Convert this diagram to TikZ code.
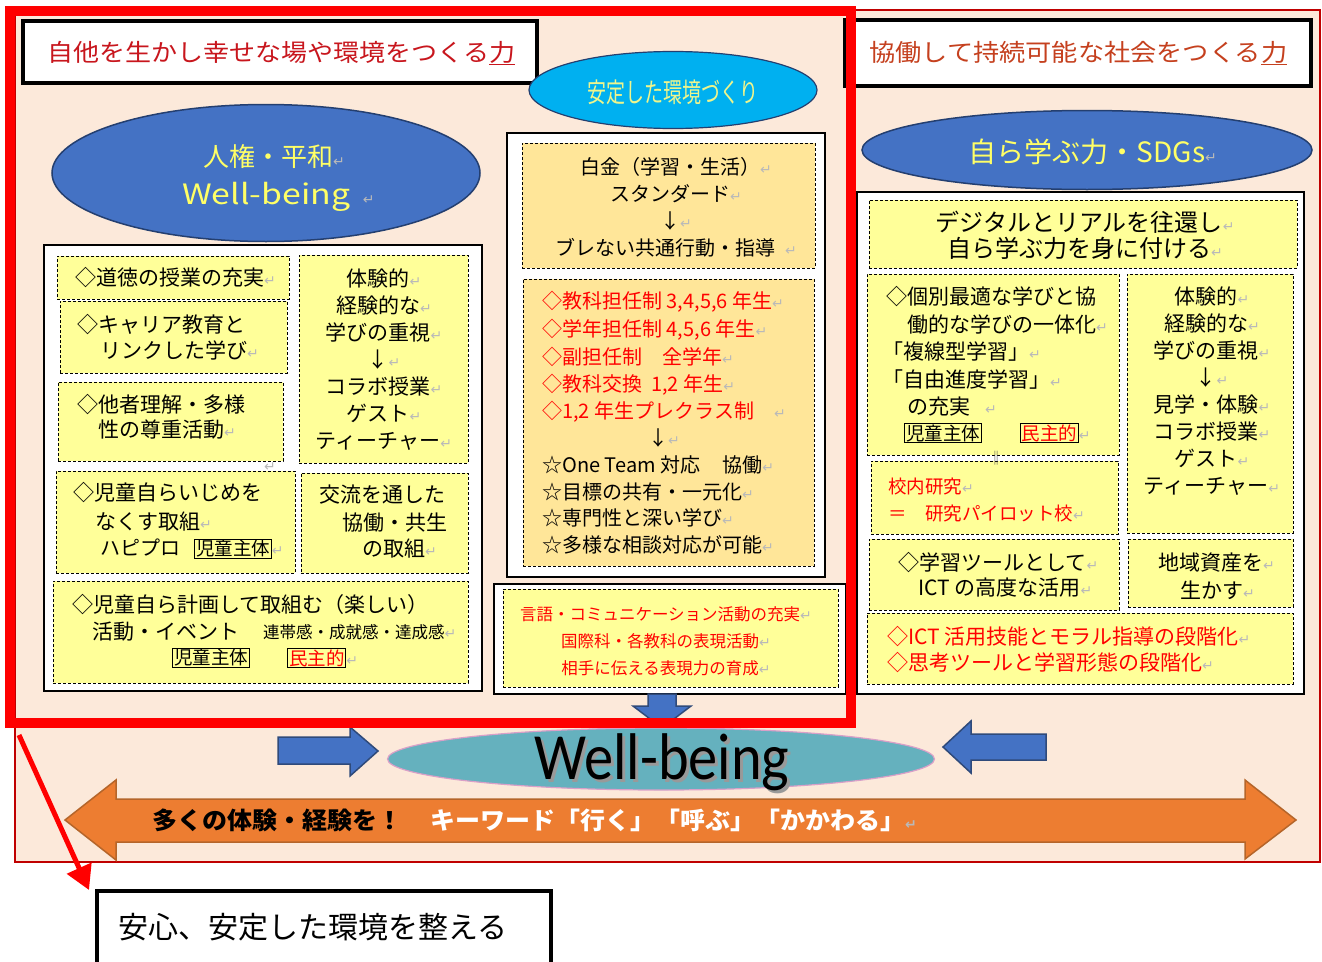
\documentclass[tikz,border=0pt]{standalone}
\usepackage{fontspec}
\usepackage{graphicx}
\setmainfont{Noto Sans CJK JP}
\newfontfamily\djv{DejaVu Sans}
\newfontfamily\carl{Carlito}
\usetikzlibrary{shapes.geometric,arrows.meta}
\definecolor{peach}{HTML}{FCE9DA}
\definecolor{dkred}{HTML}{C00000}
\definecolor{titlered}{HTML}{C8161D}
\definecolor{titleorg}{HTML}{C5401E}
\definecolor{yel}{HTML}{FFFF99}
\definecolor{gold}{HTML}{FFE699}
\definecolor{ebl}{HTML}{4472C4}
\definecolor{navyl}{HTML}{243F70}
\definecolor{cyanf}{HTML}{00B0F0}
\definecolor{etxt}{HTML}{FFFF66}
\definecolor{ctxt}{HTML}{EEF58C}
\definecolor{tealf}{HTML}{65B1BE}
\definecolor{pinkl}{HTML}{D9A0C8}
\definecolor{orgf}{HTML}{ED7D31}
\definecolor{orgl}{HTML}{B5652A}
\definecolor{barl}{HTML}{2F4A7A}
\definecolor{redt}{HTML}{FF0000}
\newcommand\rt{{\djv\fontsize{14}{14}\selectfont\textcolor{gray!55}{↵}}}
\newcommand\fw[2][black]{{\setlength\fboxsep{0.6pt}\setlength\fboxrule{1.2pt}\fbox{\textcolor{#1}{#2}}}}
\newcommand\wfit[2]{\resizebox{#1}{\height}{#2}}
\newcommand\bx[6]{\node[#6, inner sep=0, outer sep=0, minimum width={#4-#2}, minimum height={#5-#3}] (#1) at ({(#2+#4)/2},{(#3+#5)/2}) {};}
\begin{document}
\begin{tikzpicture}[x=1pt,y=-1pt,
  panel/.style={draw=black, line width=2.5, fill=white},
  ybox/.style={draw=black, line width=1, dash pattern=on 3pt off 2pt, fill=yel},
  gbox/.style={draw=black, line width=1, dash pattern=on 3pt off 2pt, fill=gold},
  tbox/.style={draw=black, line width=4, fill=white},
  bgbox/.style={draw=dkred, line width=1.5, fill=peach},
  bell/.style={ellipse, draw=navyl, line width=1.5, fill=ebl, inner sep=0},
  cell/.style={ellipse, draw=navyl, line width=1.2, fill=cyanf, inner sep=0},
  barrow/.style={draw=barl, line width=1.5, fill=ebl, line join=miter},
  oarrow/.style={draw=orgl, line width=1.5, fill=orgf, line join=miter},
  t16/.style={font=\fontsize{16.5}{27}\selectfont, inner sep=0},
  t18/.style={font=\fontsize{18.5}{27}\selectfont, inner sep=0},
  t20/.style={font=\fontsize{20}{27}\selectfont, inner sep=0},
  t21/.style={font=\fontsize{21}{27}\selectfont, inner sep=0},
  t24/.style={font=\fontsize{24}{26}\selectfont, inner sep=0},
  redframe/.style={draw=redt, line width=10},
]
\useasboundingbox (0,0) rectangle (1322,961);
\clip (0,0) rectangle (1322,961);
\fill[white] (0,0) rectangle (1322,961);
% background
\bx{bg}{15}{10}{1320}{862}{bgbox}
% title boxes
\bx{tl}{23}{21}{537}{83}{tbox}
\node[font=\fontsize{24}{24}\selectfont, text=titlered, anchor=west, inner sep=0] (tlt) at (47,53) {\wfit{468pt}{自他を生かし幸せな場や環境をつくる\underline{力}}};
\bx{tr}{845}{20}{1311}{86}{tbox}
\node[font=\fontsize{24}{24}\selectfont, text=titleorg, anchor=west, inner sep=0] (trt) at (869,53) {\wfit{418pt}{協働して持続可能な社会をつくる\underline{力}}};
% ellipses
\node[bell, minimum width=428, minimum height=137] (e1) at (266,173) {};
\node[font=\fontsize{26}{26}\selectfont, text=etxt, anchor=west, inner sep=0] (e1a) at (203,157) {人権・平和\rt};
\node[font=\fontsize{28}{28}\selectfont, text=etxt, anchor=west, inner sep=0] (e1b) at (182,197) {\wfit{168pt}{Well-being}\ \ \rt};
\node[cell, minimum width=288, minimum height=77] (e2) at (673,90) {};
\node[font=\fontsize{27}{27}\selectfont, text=ctxt, inner sep=0] (e2t) at (673,92) {\wfit{171pt}{安定した環境づくり}};
\node[bell, minimum width=450, minimum height=79] (e3) at (1087,150) {};
\node[font=\fontsize{28}{28}\selectfont, text=etxt, anchor=west, inner sep=0] (e3t) at (968,152) {\wfit{237pt}{自ら学ぶ力・SDGs}\rt};
% ---------- left panel
\bx{lp}{44}{245}{482}{691}{panel}
\bx{b1}{57}{256}{289}{299}{ybox}
\bx{b2}{60}{301}{287}{373}{ybox}
\bx{b3}{58}{382}{283}{461}{ybox}
\bx{b4}{299}{255}{468}{463}{ybox}
\bx{b5}{56}{471}{295}{573}{ybox}
\bx{b6}{301}{473}{468}{573}{ybox}
\bx{b7}{53}{581}{468}{683}{ybox}
\node[inner sep=0] (lpr) at (270,467) {\rt};
\node[t21,anchor=west] (b1t) at (75,278) {◇道徳の授業の充実\rt};
\node[t21,anchor=west] (b2t) at (77,325) {◇キャリア教育と};
\node[t21,anchor=west] (b2u) at (100,350) {リンクした学び\rt};
\node[t21,anchor=west] (b3t) at (77,405) {◇他者理解・多様};
\node[t21,anchor=west] (b3u) at (98,430) {性の尊重活動\rt};
\node[t21,align=center] (b4t) at (384,360) {体験的\rt\\経験的な\rt\\学びの重視\rt\\↓\rt\\コラボ授業\rt\\ゲスト\rt\\ティーチャー\rt};
\node[t21,anchor=west] (b5t) at (73,493) {◇児童自らいじめを};
\node[t21,anchor=west] (b5u) at (95,522) {なくす取組\rt};
\node[t20,anchor=west] (b5v) at (100,549) {ハピプロ\hspace{14pt}{\fontsize{18.5}{18.5}\selectfont\fw{児童主体}}\rt};
\node[t21,anchor=west] (b6t) at (319,495) {交流を通した};
\node[t21,anchor=west] (b6u) at (342,523) {協働・共生};
\node[t21,anchor=west] (b6v) at (362,549) {の取組\rt};
\node[t21,anchor=west] (b7t) at (72,605) {◇児童自ら計画して取組む（楽しい）};
\node[t21,anchor=west] (b7u) at (92,632) {活動・イベント};
\node[t16,anchor=west] (b7v) at (263,632) {連帯感・成就感・達成感\rt};
\node[t18,anchor=west] (b7w) at (172,658) {\fw{児童主体}};
\node[t18,anchor=west] (b7x) at (287,658) {\fw[redt]{民主的}\rt};
% ---------- center panel
\bx{cp}{507}{133}{825}{577}{panel}
\bx{c1}{522}{143}{815}{268}{gbox}
\bx{c2}{523}{279}{814}{566}{gbox}
\node[t20,align=center] (c1t) at (676,207) {白金（学習・生活）\rt\\スタンダード\rt\\↓\rt\\ブレない共通行動・指導\hspace{10pt}\rt};
\node[t20,text=redt,anchor=west] (c2a) at (542,302) {◇教科担任制 3,4,5,6 年生\rt};
\node[t20,text=redt,anchor=west] (c2b) at (542,330) {◇学年担任制 4,5,6 年生\rt};
\node[t20,text=redt,anchor=west] (c2c) at (542,357) {◇副担任制　全学年\rt};
\node[t20,text=redt,anchor=west] (c2d) at (542,385) {◇教科交換\hspace{9pt}1,2 年生\rt};
\node[t20,text=redt,anchor=west] (c2e) at (542,412) {◇1,2 年生プレクラス制\hspace{20pt}\rt};
\node[t20] (c2f) at (664,438) {↓\rt};
\node[t20,anchor=west] (c2g) at (542,465) {☆One Team 対応\hspace{22pt}協働\rt};
\node[t20,anchor=west] (c2h) at (542,492) {☆目標の共有・一元化\rt};
\node[t20,anchor=west] (c2i) at (542,518) {☆専門性と深い学び\rt};
\node[t20,anchor=west] (c2j) at (542,545) {☆多様な相談対応が可能\rt};
% ---------- lower center panel
\bx{lcp}{494}{584}{846}{694}{panel}
\bx{lc1}{503}{589}{838}{687}{ybox}
\node[t16,text=redt,align=center] (lct) at (666,641) {言語・コミュニケーション活動の充実\rt\\国際科・各教科の表現活動\rt\\相手に伝える表現力の育成\rt};
% ---------- right panel
\bx{rp}{857}{192}{1304}{694}{panel}
\bx{r1}{869}{200}{1297}{268}{ybox}
\bx{r2}{867}{274}{1119}{455}{ybox}
\bx{r3}{871}{461}{1118}{534}{ybox}
\bx{r4}{1127}{274}{1293}{533}{ybox}
\bx{r5}{869}{539}{1119}{610}{ybox}
\bx{r6}{1128}{539}{1293}{607}{ybox}
\bx{r7}{867}{613}{1293}{684}{ybox}
\node[t24,align=center] (r1t) at (1085,235) {デジタルとリアルを往還し\rt\\自ら学ぶ力を身に付ける\rt};
\node[t21,anchor=west] (r2a) at (886,297) {◇個別最適な学びと協};
\node[t21,anchor=west] (r2b) at (907,325) {働的な学びの一体化\rt};
\node[t21,anchor=west] (r2c) at (882,352) {「複線型学習」\rt};
\node[t21,anchor=west] (r2d) at (882,380) {「自由進度学習」\rt};
\node[t21,anchor=west] (r2e) at (907,407) {の充実\hspace{15pt}\rt};
\node[t18,anchor=west] (r2f) at (904,433) {\fw{児童主体}\hspace{38pt}\fw[redt]{民主的}\rt};
\node[font=\fontsize{14}{14}\selectfont, inner sep=0, text=black!70] (r2g) at (996,458) {‖};
\node[t18,text=redt,anchor=west] (r3a) at (888,486) {校内研究\rt};
\node[t18,text=redt,anchor=west] (r3b) at (888,513) {＝　研究パイロット校\rt};
\node[t21,align=center] (r4t) at (1212,391) {体験的\rt\\経験的な\rt\\学びの重視\rt\\↓\rt\\見学・体験\rt\\コラボ授業\rt\\ゲスト\rt\\ティーチャー\rt};
\node[t21,anchor=west] (r5a) at (898,563) {◇学習ツールとして\rt};
\node[t21,anchor=west] (r5b) at (918,588) {ICT の高度な活用\rt};
\node[t21,anchor=west] (r6a) at (1158,563) {地域資産を\rt};
\node[t21,anchor=west] (r6b) at (1180,590) {生かす\rt};
\node[t21,text=redt,anchor=west] (r7a) at (887,637) {◇ICT 活用技能とモラル指導の段階化\rt};
\node[t21,text=redt,anchor=west] (r7b) at (887,663) {◇思考ツールと学習形態の段階化\rt};
% ---------- bottom band
\draw[barrow] (648,694) -- (676,694) -- (676,706) -- (691,706) -- (662,728) -- (633,706) -- (648,706) -- cycle;
\node[ellipse, fill=tealf, draw=pinkl, line width=1.2, minimum width=547, minimum height=62, inner sep=0] (wb) at (661,759) {};
\node[font=\carl\fontsize{66}{66}\selectfont, text=black, anchor=base, inner sep=0] (wbt) at (662,779) {\makebox[0pt][l]{\raisebox{-3pt}{\hspace{3pt}\textcolor{black!40}{\wfit{255pt}{Well-being}}}}\wfit{255pt}{Well-being}};
\draw[barrow] (278,737) -- (350,737) -- (350,727) -- (378,751) -- (350,776) -- (350,764) -- (278,764) -- cycle;
\draw[barrow] (1046,734) -- (971,734) -- (971,721) -- (943,747) -- (971,773) -- (971,760) -- (1046,760) -- cycle;
\draw[oarrow] (65,820) -- (116,780) -- (116,799) -- (1245,799) -- (1245,780) -- (1296,820) -- (1245,859) -- (1245,842) -- (116,842) -- (116,860) -- cycle;
\node[font=\fontsize{24}{24}\selectfont\bfseries, text=black, anchor=west, inner sep=0] (o1) at (152,820) {\wfit{250pt}{多くの体験・経験を！}};
\node[font=\fontsize{24}{24}\selectfont\bfseries, text=white, anchor=west, inner sep=0] (o2) at (430,820) {\wfit{475pt}{キーワード「行く」「呼ぶ」「かかわる」}\rt};
% ---------- red frame and call-out
\bx{rf}{10}{11}{851}{723}{redframe}
\bx{bot}{97}{891}{551}{975}{tbox}
\node[font=\fontsize{30}{30}\selectfont, anchor=west, inner sep=0] (bott) at (118,927) {安心、安定した環境を整える};
\coordinate (rs) at (19,735);
\coordinate (rtip) at (89,890);
\draw[line width=5, draw=redt, -{Triangle[length=24pt,width=26pt]}] (rs) -- (rtip);
\end{tikzpicture}
\end{document}
